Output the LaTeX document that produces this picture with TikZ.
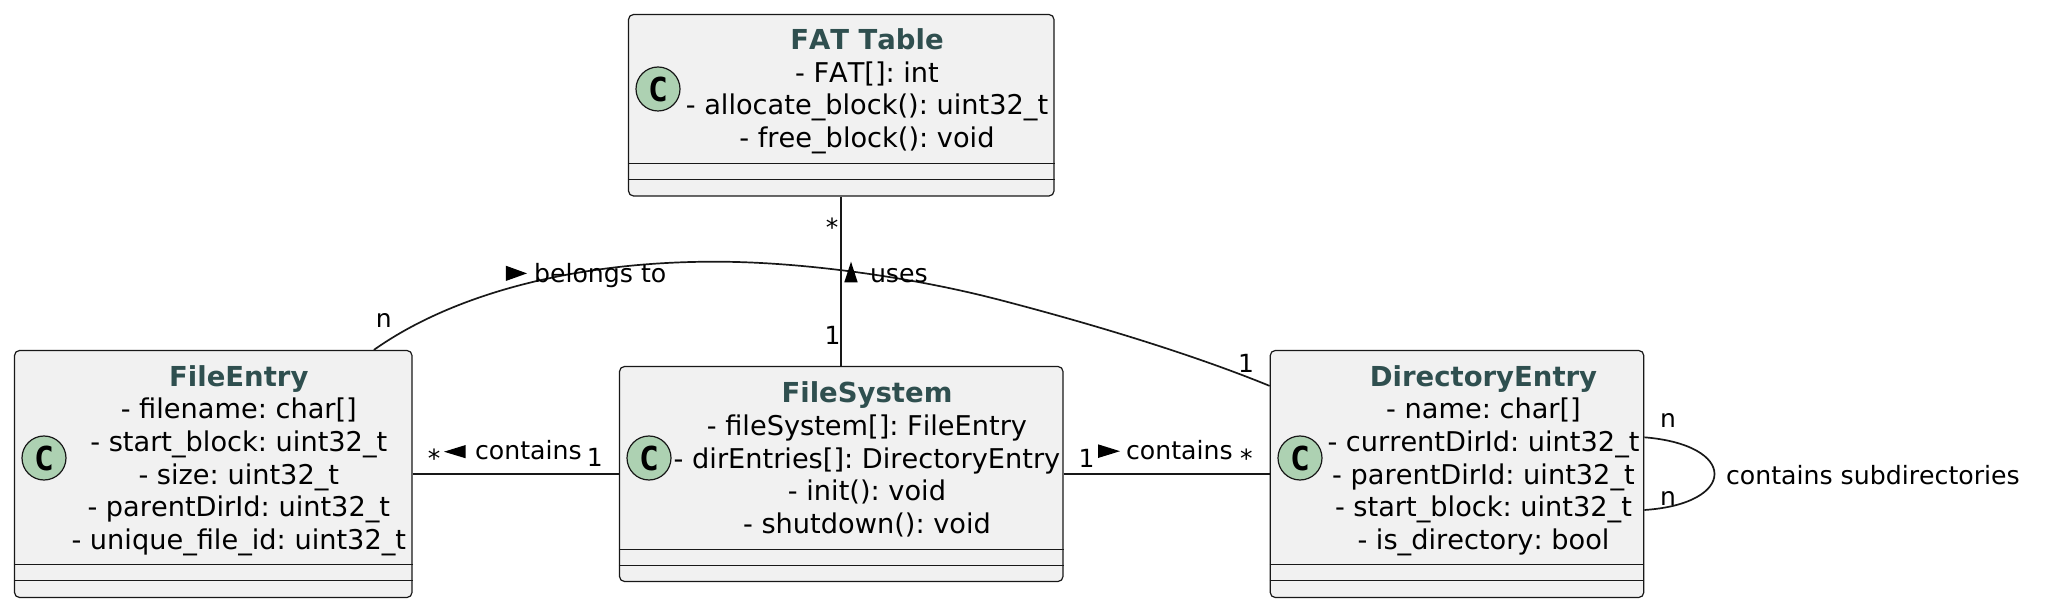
\documentclass[tikz,border=0pt]{standalone}
\usepackage{fontspec}
\setmainfont[Kerning=Off]{DejaVu Sans}
\newfontfamily\monobold[BoldFont={DejaVu Sans Mono Bold}]{DejaVu Sans Mono}
\usetikzlibrary{calc}
\frenchspacing
\definecolor{boxfill}{HTML}{F1F1F1}
\definecolor{boxline}{HTML}{181818}
\definecolor{spotfill}{HTML}{ADD1B2}
\definecolor{titlecol}{HTML}{2F4F4F}
\newcommand{\classtitle}[1]{{\fontsize{27.5}{32.7}\selectfont\bfseries\color{titlecol}#1}}
\tikzset{
  x=1pt,y=-1pt,
  classbox/.style={draw=boxline,fill=boxfill,line width=1.2pt,rounded corners=5pt,inner sep=0pt,anchor=center},
  members/.style={inner sep=0pt,outer sep=0pt,align=center,anchor=base,text=black,font=\fontsize{27.2}{32.7}\selectfont\frenchspacing},
  spot/.style={circle,draw=boxline,fill=spotfill,line width=1.2pt,minimum size=44pt,inner sep=0pt,font=\monobold\bfseries\fontsize{33}{33}\selectfont},
  divider/.style={draw=boxline,line width=1pt},
  conn/.style={draw=boxline,line width=1.7pt},
  lab/.style={inner sep=0pt,outer sep=0pt,anchor=base west,text=black,font=\fontsize{25.2}{30}\selectfont},
  mult/.style={inner sep=0pt,outer sep=0pt,anchor=center,text=black,font=\fontsize{25}{30}\selectfont},
  tri/.style={fill=black,draw=none},
}
\begin{document}
\begin{tikzpicture}
\useasboundingbox (0,0) rectangle (2046,609);
% class boxes
\node[classbox,minimum width=425.5pt,minimum height=181.5pt] (fat) at (841.25,105.25) {};
\node[classbox,minimum width=397.5pt,minimum height=247pt] (fe) at (213.25,474) {};
\node[classbox,minimum width=443.5pt,minimum height=215pt] (fs) at (841.25,474) {};
\node[classbox,minimum width=373.5pt,minimum height=247pt] (de) at (1457,474) {};
% connectors
\draw[conn] (fat) -- (fs);
\draw[conn] (fe.east) -- (fs.west);
\draw[conn] (fs.east) -- (de.west);
\coordinate (beA) at ([xshift=360pt]fe.north west);
\coordinate (beB) at ([yshift=-36pt]de.north west);
\draw[conn] (beA) .. controls (450,296) and (570,261.5) .. (716,261.7)
  .. controls (800,261.8) and (910,276.5) .. (1000,300)
  .. controls (1090,323.4) and (1191,353.7) .. (beB);
\coordinate (loopA) at ([yshift=36.7pt]de.east);
\coordinate (loopB) at ([yshift=-36pt]de.east);
\draw[conn] (loopA) .. controls (1690,441) and (1714.5,457) .. (1714.5,474)
  .. controls (1714.5,491) and (1690,507) .. (loopB);
% dividers
\foreach \n/\a/\b in {fat/150/166,fe/214.8/230.8,fs/183.3/199.3,de/214.8/230.8}{
  \draw[divider] ([yshift=-\a pt]\n.north west) -- ([yshift=-\a pt]\n.north east);
  \draw[divider] ([yshift=-\b pt]\n.north west) -- ([yshift=-\b pt]\n.north east);
}
% spots
\node[spot] (fatC) at (658,89) {C};
\node[spot] (feC) at (44,458) {C};
\node[spot] (fsC) at (649,458) {C};
\node[spot] (deC) at (1300,458) {C};
% class text
\node[members] (fatT) at (867,147.7) {\classtitle{FAT Table}\\- FAT[]: int\\- allocate\_block(): uint32\_t\\- free\_block(): void};
\node[members] (feT) at (238.8,549.5) {\classtitle{FileEntry}\\- filename: char[]\\- start\_block: uint32\_t\\- size: uint32\_t\\- parentDirId: uint32\_t\\- unique\_file\_id: uint32\_t};
\node[members] (fsT) at (867,533.5) {\classtitle{FileSystem}\\- fileSystem[]: FileEntry\\- dirEntries[]: DirectoryEntry\\- init(): void\\- shutdown(): void};
\node[members] (deT) at (1483.5,549.5) {\classtitle{DirectoryEntry}\\- name: char[]\\- currentDirId: uint32\_t\\- parentDirId: uint32\_t\\- start\_block: uint32\_t\\- is\_directory: bool};
% relation labels
\fill[tri] (844.3,282.3) -- (857.7,282.3) -- (851,261.7) -- cycle;
\node[lab] (usesL) at (870,282.7) {uses};
\fill[tri] (505.8,265.7) -- (505.8,281) -- (527,273.4) -- cycle;
\node[lab] (belongsL) at (534,282.7) {belongs to};
\fill[tri] (465.7,445) -- (465.7,458.3) -- (444,451.7) -- cycle;
\node[lab] (containsL) at (475,460) {contains};
\fill[tri] (1098,444.3) -- (1098,458) -- (1120,451.2) -- cycle;
\node[lab] (containsR) at (1126,460) {contains};
\node[lab] (subL) at (1726,484) {contains subdirectories};
% multiplicities
\node[mult] (m1) at (832,227) {*};
\node[mult] (m2) at (832.6,335.7) {1};
\node[mult] (m3) at (383.7,321) {n};
\node[mult] (m4) at (1246,363) {1};
\node[mult] (m5) at (434,458) {*};
\node[mult] (m6) at (594.7,457.3) {1};
\node[mult] (m7) at (1086.6,458) {1};
\node[mult] (m8) at (1246.4,458) {*};
\node[mult] (m9) at (1668,420.7) {n};
\node[mult] (m10) at (1668,498) {n};
\end{tikzpicture}
\end{document}
